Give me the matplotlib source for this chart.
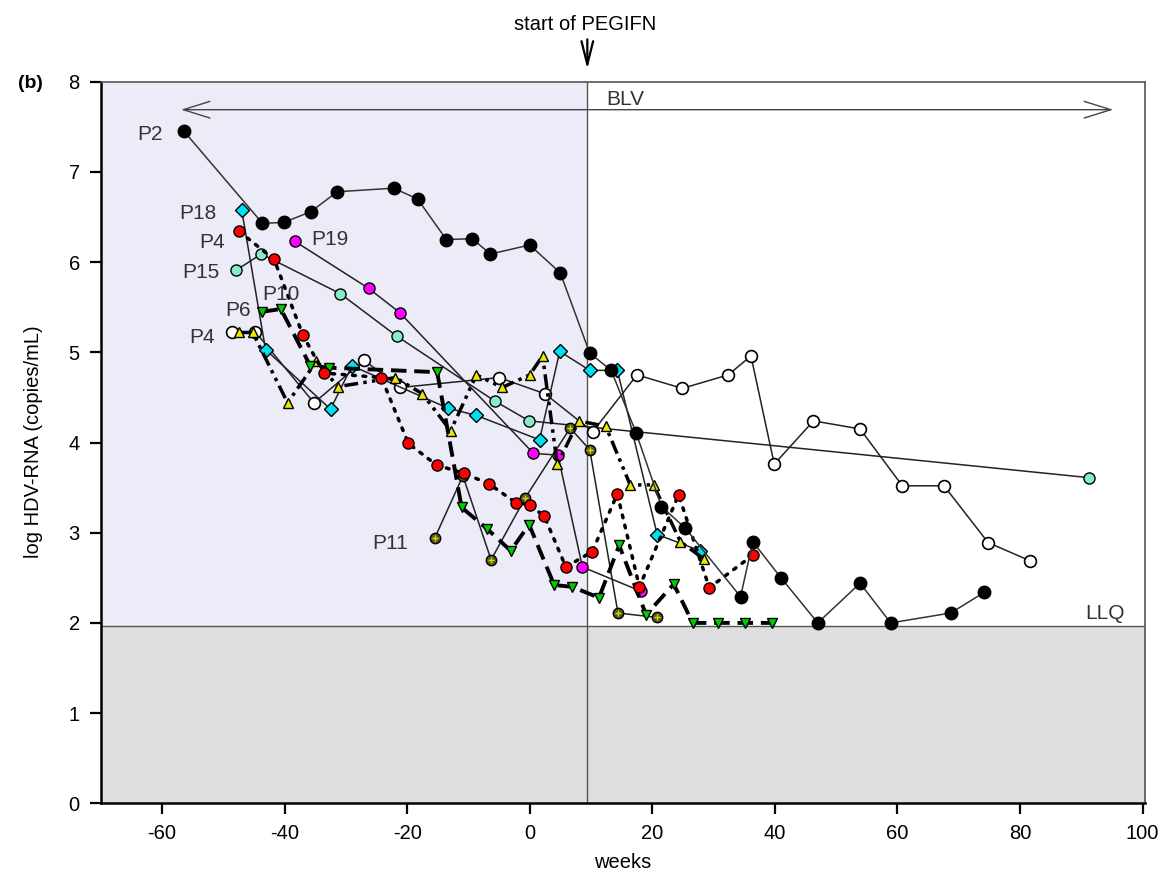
import matplotlib
matplotlib.use('Agg')
import matplotlib.pyplot as plt

plt.rcParams['axes.unicode_minus'] = False
plt.rcParams['font.family'] = ['Liberation Sans Narrow', 'Liberation Sans', 'DejaVu Sans']

# Patient series (weeks, log HDV-RNA)
p2_weeks = [-56.4, -43.6, -40.1, -35.7, -31.4, -22.2, -18.3, -13.6, -9.4, -6.4, 0.0, 5.0,
            9.8, 13.3, 17.4, 21.5, 25.4, 34.4, 36.4, 41.0, 47.0, 53.9, 58.9, 68.7, 74.2]
p2_vals = [7.45, 6.43, 6.44, 6.56, 6.78, 6.82, 6.70, 6.25, 6.26, 6.09, 6.19, 5.88,
           4.99, 4.80, 4.10, 3.29, 3.05, 2.29, 2.90, 2.50, 2.00, 2.44, 2.00, 2.11, 2.34]

p18_weeks = [-47.0, -43.1, -32.5, -29.0, -13.3, -8.7, 1.6, 4.9, 9.8, 14.3, 20.8, 27.8]
p18_vals = [6.58, 5.03, 4.37, 4.85, 4.38, 4.30, 4.03, 5.01, 4.80, 4.80, 2.98, 2.80]

p4_weeks = [-47.4, -41.7, -37.0, -33.6, -24.2, -19.8, -15.2, -10.8, -6.6, -2.2, 0.0, 2.4,
            5.9, 10.2, 14.3, 17.9, 24.3, 29.3, 36.4]
p4_vals = [6.34, 6.03, 5.19, 4.77, 4.72, 3.99, 3.75, 3.66, 3.54, 3.33, 3.31, 3.18,
           2.62, 2.79, 3.43, 2.40, 3.42, 2.39, 2.75]

p15_weeks = [-47.9, -43.8, -30.9, -21.7, -5.7, -0.1, 91.3]
p15_vals = [5.91, 6.09, 5.65, 5.18, 4.46, 4.24, 3.61]

p19_weeks = [-38.3, -26.3, -21.2, 0.6, 4.6, 8.6, 18.2]
p19_vals = [6.23, 5.71, 5.44, 3.88, 3.86, 2.62, 2.35]

p6_weeks = [-43.6, -40.6, -35.8, -32.7, -15.1, -11.1, -6.9, -3.1, -0.1, 4.0, 6.9, 11.3,
            14.6, 19.0, 23.5, 26.6, 30.8, 35.1, 39.6]
p6_vals = [5.45, 5.48, 4.85, 4.83, 4.78, 3.28, 3.04, 2.80, 3.09, 2.42, 2.40, 2.28,
           2.86, 2.09, 2.43, 2.00, 2.00, 2.00, 2.00]

tri_weeks = [-47.4, -45.2, -39.5, -34.8, -31.3, -21.9, -17.5, -12.9, -8.7, -4.5, 0.0, 2.1,
             4.5, 8.0, 12.4, 16.4, 20.2, 24.6, 28.4]
tri_vals = [5.22, 5.22, 4.44, 4.90, 4.62, 4.72, 4.54, 4.13, 4.75, 4.61, 4.75, 4.96,
            3.76, 4.24, 4.18, 3.53, 3.53, 2.90, 2.71]

open_weeks = [-48.5, -44.8, -35.2, -27.0, -21.1, -5.0, 2.5, 10.3, 17.5, 24.9, 32.4, 36.1,
              39.9, 46.3, 53.9, 60.8, 67.6, 74.8, 81.6]
open_vals = [5.22, 5.23, 4.44, 4.91, 4.61, 4.72, 4.54, 4.12, 4.75, 4.60, 4.75, 4.96,
             3.76, 4.24, 4.15, 3.52, 3.52, 2.89, 2.69]

p11_weeks = [-15.5, -10.9, -6.3, -0.7, 6.6, 9.8, 14.4, 20.8]
p11_vals = [2.94, 3.63, 2.70, 3.39, 4.16, 3.92, 2.11, 2.06]

# Patient labels
label_names = ['P2', 'P18', 'P4', 'P15', 'P19', 'P10', 'P6', 'P4', 'P11']
label_x = [-62.0, -54.2, -51.9, -53.7, -32.6, -40.6, -47.6, -53.4, -22.8]
label_y = [7.42, 6.54, 6.22, 5.89, 6.25, 5.64, 5.46, 5.16, 2.88]

PEGIFN_START = 9.4
LLQ = 1.97

fig = plt.figure(figsize=(11.6, 8.76), dpi=100)
ax = fig.add_axes([0.0868, 0.083, 0.9003, 0.8237])
ax.set_xlim(-70, 100.4)
ax.set_ylim(0, 8)

# Shaded regions
ax.axvspan(-70, PEGIFN_START, ymin=LLQ / 8, ymax=1, color='#ececf9', lw=0, zorder=0)
ax.axhspan(0, LLQ, color='#dedede', lw=0, zorder=0)
ax.axhline(LLQ, color='#555555', lw=1.0, zorder=1)
ax.axvline(PEGIFN_START, color='#555555', lw=1.0, zorder=1)

lw_thin = 1.1
ec = 'black'

# Draw each series
ax.plot(p15_weeks, p15_vals, '-', color='#222222', lw=lw_thin, marker='o', ms=8,
        mfc='#86ecc8', mec=ec, mew=1, zorder=3)
ax.plot(open_weeks, open_vals, '-', color='#222222', lw=lw_thin, marker='o', ms=8.5,
        mfc='white', mec=ec, mew=1.2, zorder=3)
ax.plot(p19_weeks, p19_vals, '-', color='#222222', lw=lw_thin, marker='o', ms=8,
        mfc='#ff00ff', mec=ec, mew=1, zorder=3)
ax.plot(p18_weeks, p18_vals, '-', color='#222222', lw=lw_thin, marker='D', ms=7,
        mfc='#00e0f0', mec=ec, mew=1, zorder=3)
ax.plot(p11_weeks, p11_vals, '-', color='#222222', lw=lw_thin, marker='o', ms=7.5,
        mfc='#5a5a1e', mec=ec, mew=1, zorder=3)
ax.plot(p11_weeks, p11_vals, ls='none', marker='+', ms=5, mec='#d8d800', mew=1, zorder=3)
ax.plot(tri_weeks, tri_vals, color='black', lw=2.5, ls=(0, (4, 1.5, 1, 1.5, 1, 1.5)),
        marker='^', ms=7, mfc='#e8e800', mec=ec, mew=1, zorder=4)
ax.plot(p6_weeks, p6_vals, color='black', lw=2.8, ls=(0, (4, 2)),
        marker='v', ms=7, mfc='#00cc00', mec=ec, mew=1, zorder=4)
ax.plot(p4_weeks, p4_vals, color='black', lw=2.5, ls=(0, (0.8, 2.2)),
        dash_capstyle='round', marker='o', ms=8, mfc='#ff0000', mec=ec, mew=1, zorder=4)
ax.plot(p2_weeks, p2_vals, '-', color='#333333', lw=lw_thin, marker='o', ms=9,
        mfc='black', mec=ec, zorder=5)

for name, lx, ly in zip(label_names, label_x, label_y):
    ax.text(lx, ly, name, fontsize=15, family=['Liberation Sans', 'DejaVu Sans'],
            color='#333333', ha='center', va='center', zorder=6)

# BLV arrow and labels
ax.annotate('', xy=(-56.9, 7.69), xytext=(95.2, 7.69),
            arrowprops=dict(arrowstyle='<->,head_length=1.6,head_width=0.5',
                            color='#444444', lw=1.0, mutation_scale=12,
                            shrinkA=0, shrinkB=0))
ax.text(15.6, 7.8, 'BLV', fontsize=15, color='#333333', ha='center', va='center')
ax.text(93.8, 2.1, 'LLQ', fontsize=15, color='#333333', ha='center', va='center')

# Start of treatment marker above the plot
ax.annotate('', xy=(PEGIFN_START, 8.14), xytext=(PEGIFN_START, 8.47),
            annotation_clip=False,
            arrowprops=dict(arrowstyle='->,head_length=1.4,head_width=0.35',
                            color='black', lw=1.6, mutation_scale=12,
                            shrinkA=0, shrinkB=0))
ax.text(PEGIFN_START - 0.3, 8.63, 'start of PEGIFN', fontsize=14.5, ha='center', va='center')
fig.text(30 / 1160, 1 - 84 / 876, '(b)', fontsize=14, fontweight='bold',
         family=['Liberation Sans', 'DejaVu Sans'], ha='center', va='center')

# Axes styling
ax.set_xticks(range(-60, 101, 20))
ax.set_yticks(range(0, 9))
ax.tick_params(axis='both', length=8, width=1.6, labelsize=14.5, direction='out', pad=7)
for side in ['left', 'bottom']:
    ax.spines[side].set_linewidth(1.8)
for side in ['top', 'right']:
    ax.spines[side].set_linewidth(1.2)
    ax.spines[side].set_color('#555555')
fig.text(623 / 1160, 1 - 862 / 876, 'weeks', fontsize=14.5, ha='center', va='center')
fig.text(34 / 1160, 1 - 442 / 876, 'log HDV-RNA (copies/mL)', fontsize=14.5,
         rotation=90, ha='center', va='center')

fig.savefig('out.png', dpi=100)
